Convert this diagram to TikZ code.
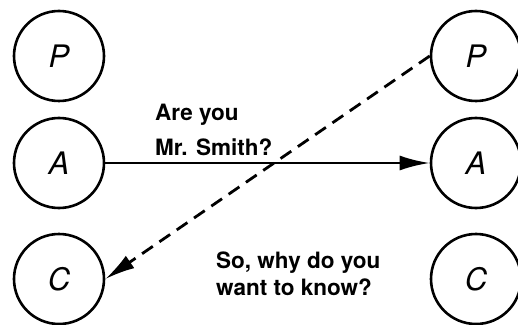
\documentclass[tikz,border=0pt]{standalone}
\usepackage{fontspec}
\setmainfont{TeX Gyre Heros}
\usetikzlibrary{arrows.meta}
\tikzset{
	party/.style={circle, draw, line width=2.6pt, minimum size=90pt, inner sep=0pt, font=\fontsize{31}{33}\selectfont\itshape},
	talk/.style={align=left, inner sep=0pt, anchor=north west},
	tip/.style={-{Latex[length=30pt,width=15pt]}, line width=2.8pt}
}
\begin{document}
\begin{tikzpicture}[x=1pt,y=1pt]
			\useasboundingbox (0,0) rectangle (518,324);
			% Parties
			\foreach \n/\y in {P/268,A/161,C/45} {
					\node[party] (left\n) at (59,\y) {\n};
					\node[party] (right\n) at (476,\y) {\n};
				}
			% Messages
			\draw[tip] (leftA) -- (rightA);
			\draw[tip, dash pattern=on 13pt off 8pt] (rightP.west) -- (leftC.east);
			\node[talk, font=\fontsize{22.5}{35}\selectfont\bfseries] (ask) at (155,220) {Are you\\Mr. Smith?};
			\node[talk, font=\fontsize{22.5}{27}\selectfont\bfseries] (reply) at (216,72) {So, why do you\\want to know?};
		\end{tikzpicture}
\end{document}
